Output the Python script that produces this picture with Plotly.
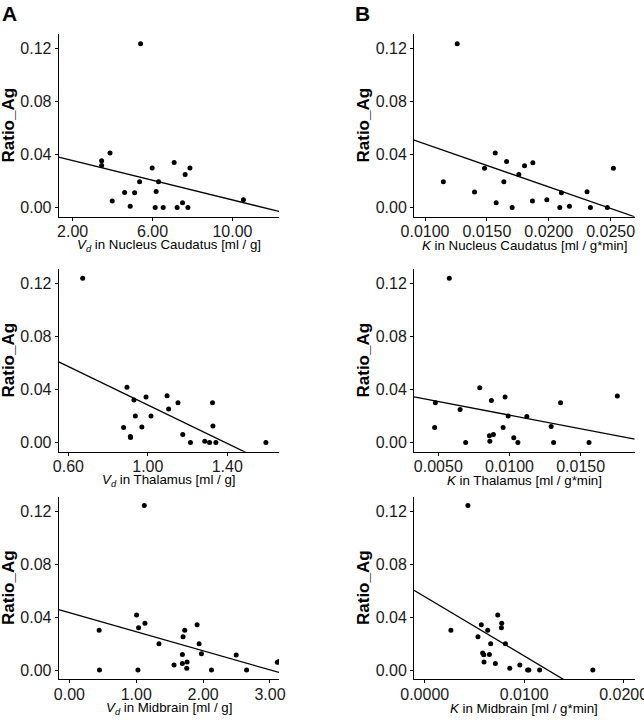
import plotly.graph_objects as go

# ---------------- data ----------------
# Panel A, row 1: Vd in Nucleus Caudatus
x_A1 = [5.40, 3.45, 3.45, 3.87, 3.98, 4.60, 4.88, 5.10, 5.35, 5.98, 6.18,
        6.30, 6.13, 6.53, 7.08, 7.23, 7.50, 7.63, 7.77, 7.87, 10.55]
y_A1 = [0.1238, 0.0354, 0.0318, 0.0412, 0.0048, 0.0114, 0.0010, 0.0111, 0.0195, 0.0298, 0.0121,
        0.0195, 0.0000, 0.0000, 0.0341, 0.0000, 0.0035, 0.0250, 0.0000, 0.0298, 0.0058]

# Panel B, row 1: K in Nucleus Caudatus
x_B1 = [0.01260, 0.01148, 0.01400, 0.01481, 0.01567, 0.01575, 0.01637, 0.01659, 0.01704, 0.01758, 0.01804,
        0.01868, 0.01871, 0.01984, 0.02089, 0.02102, 0.02167, 0.02309, 0.02336, 0.02473, 0.02522]
y_B1 = [0.1238, 0.0194, 0.0116, 0.0297, 0.0411, 0.0035, 0.0194, 0.0348, 0.0000, 0.0250, 0.0315,
        0.0048, 0.0338, 0.0058, 0.0000, 0.0111, 0.0010, 0.0118, 0.0000, 0.0000, 0.0297]

# Panel A, row 2: Vd in Thalamus
x_A2 = [0.672, 0.895, 0.878, 0.912, 0.913, 0.930, 0.937, 0.970, 0.991, 1.016, 1.097,
        1.105, 1.152, 1.176, 1.215, 1.287, 1.311, 1.326, 1.328, 1.343, 1.595]
y_A2 = [0.1243, 0.0417, 0.0114, 0.0045, 0.0038, 0.0321, 0.0200, 0.0116, 0.0344, 0.0200, 0.0354,
        0.0253, 0.0301, 0.0061, 0.0000, 0.0010, 0.0000, 0.0301, 0.0124, 0.0000, 0.0000]

# Panel B, row 2: K in Thalamus
x_B2 = [0.00577, 0.00479, 0.00474, 0.00653, 0.00692, 0.00791, 0.00859, 0.00862, 0.00873, 0.00887, 0.00955,
        0.00969, 0.00991, 0.01030, 0.01059, 0.01122, 0.01293, 0.01310, 0.01359, 0.01559, 0.01758]
y_B2 = [0.1243, 0.0301, 0.0114, 0.0250, 0.0000, 0.0414, 0.0051, 0.0010, 0.0318, 0.0061, 0.0114,
        0.0344, 0.0200, 0.0035, 0.0000, 0.0197, 0.0121, 0.0000, 0.0301, 0.0000, 0.0351]

# Panel A, row 3: Vd in Midbrain
x_A3 = [1.12, 0.445, 0.45, 1.005, 1.035, 1.025, 1.13, 1.34, 1.565, 1.69, 1.69, 1.70,
        1.725, 1.76, 1.755, 1.91, 1.94, 1.975, 2.125, 2.495, 2.65, 3.11, 3.14]
y_A3 = [0.1243, 0.0300, 0.0000, 0.0416, 0.0320, 0.0000, 0.0353, 0.0199, 0.0038, 0.0050, 0.0118, 0.0252,
        0.0300, 0.0060, 0.0013, 0.0343, 0.0199, 0.0124, 0.0000, 0.0113, 0.0000, 0.0058, 0.0066]

# Panel B, row 3: K in Midbrain
x_B3 = [0.00434, 0.00263, 0.00569, 0.00535, 0.00633, 0.00734, 0.00774, 0.00771, 0.00663, 0.00811, 0.00582,
        0.00593, 0.00650, 0.00596, 0.00710, 0.00855, 0.00956, 0.01034, 0.01047, 0.01155, 0.01690]
y_B3 = [0.1243, 0.0300, 0.0343, 0.0252, 0.0300, 0.0416, 0.0353, 0.0320, 0.0199, 0.0199, 0.0129,
        0.0116, 0.0118, 0.0060, 0.0050, 0.0013, 0.0038, 0.0000, 0.0000, 0.0000, 0.0000]

# Regression lines as drawn (intercept, slope)
fit_intercept = [0.0429, 0.0805, 0.1009, 0.0412, 0.0433, 0.0554]
fit_slope = [-0.00372, -3.25, -0.0726, -2.057, -0.01439, -4.48]

x_titles = [
    "<i>V<sub>d</sub></i> in Nucleus Caudatus [ml / g]",
    "<i>K</i> in Nucleus Caudatus [ml / g*min]",
    "<i>V<sub>d</sub></i> in Thalamus [ml / g]",
    "<i>K</i> in Thalamus [ml / g*min]",
    "<i>V<sub>d</sub></i> in Midbrain [ml / g]",
    "<i>K</i> in Midbrain [ml / g*min]",
]
y_title = "Ratio_Ag"
panel_labels = ["A", "B"]

y_tickvals = [0.00, 0.04, 0.08, 0.12]
x_tickvals = [
    [2, 6, 10],
    [0.010, 0.015, 0.020, 0.025],
    [0.6, 1.0, 1.4],
    [0.005, 0.010, 0.015],
    [0, 1, 2, 3],
    [0.0, 0.01, 0.02],
]
x_tickformat = [".2f", ".4f", ".2f", ".4f", ".2f", ".4f"]

# ---------------- layout geometry ----------------
W, H = 644, 720
x_ranges = [
    [1.3, 12.33],
    [0.00911, 0.02694],
    [0.551, 1.661],
    [0.00329, 0.0188],
    [-0.16, 3.135],
    [-0.00108, 0.02111],
]
y_range = [-0.007, 0.131]
col_px = [(58.7, 279.0), (414.0, 634.7)]
row_px = [(34.3, 216.7), (269.3, 451.7), (496.7, 679.3)]

xs = [x_A1, x_B1, x_A2, x_B2, x_A3, x_B3]
ys = [y_A1, y_B1, y_A2, y_B2, y_A3, y_B3]

fig = go.Figure()
tick_font = dict(family="Liberation Sans, Arial, sans-serif", size=16, color="#1a1a1a")
title_font = dict(family="Liberation Sans, Arial, sans-serif", size=13.3, color="black")

annotations = []
for i in range(6):
    r, c = divmod(i, 2)
    xa = "x" if i == 0 else f"x{i+1}"
    ya = "y" if i == 0 else f"y{i+1}"
    fig.add_trace(go.Scatter(x=xs[i], y=ys[i], mode="markers",
                             marker=dict(color="black", size=5),
                             xaxis=xa, yaxis=ya, showlegend=False, hoverinfo="skip"))
    x0, x1 = x_ranges[i]
    fig.add_trace(go.Scatter(x=[x0, x1],
                             y=[fit_intercept[i] + fit_slope[i] * x0, fit_intercept[i] + fit_slope[i] * x1],
                             mode="lines", line=dict(color="black", width=1.3),
                             xaxis=xa, yaxis=ya, showlegend=False, hoverinfo="skip"))
    L, R = col_px[c]
    T, B = row_px[r]
    axis_common = dict(showline=True, linecolor="black", linewidth=1, ticks="outside", ticklen=3,
                       tickwidth=1, tickcolor="black", showgrid=False, zeroline=False,
                       tickfont=tick_font, fixedrange=True, automargin=False,
                       ticklabeloverflow="allow")
    fig.layout[("xaxis" if i == 0 else f"xaxis{i+1}")] = dict(
        domain=[L / W, R / W], range=x_ranges[i], anchor=ya, tickvals=x_tickvals[i],
        tickformat=x_tickformat[i], ticklabelstandoff=-3, **axis_common)
    fig.layout[("yaxis" if i == 0 else f"yaxis{i+1}")] = dict(
        domain=[1 - B / H, 1 - T / H], range=y_range, anchor=xa, tickvals=y_tickvals,
        tickformat=".2f", **axis_common)
    # x-axis title
    annotations.append(dict(text=x_titles[i], xref="paper", yref="paper",
                            x=(L + R) / 2 / W, y=1 - (B + 29) / H, xanchor="center", yanchor="middle",
                            showarrow=False, font=title_font))
    # y-axis title
    ytx = 8.0 if c == 0 else 363.0
    annotations.append(dict(text=f"<b>{y_title}</b>", xref="paper", yref="paper",
                            x=ytx / W, y=1 - (T + B) / 2 / H, xanchor="center", yanchor="middle",
                            textangle=-90, showarrow=False,
                            font=dict(family="Liberation Sans, Arial, sans-serif", size=17, color="black")))

for lbl, px in zip(panel_labels, [9.5, 362.5]):
    annotations.append(dict(text=f"<b>{lbl}</b>", xref="paper", yref="paper",
                            x=px / W, y=1 - 13 / H, xanchor="center", yanchor="middle", showarrow=False,
                            font=dict(family="Liberation Sans, Arial, sans-serif", size=21, color="black")))

fig.update_layout(width=W, height=H, margin=dict(l=0, r=0, t=0, b=0, autoexpand=False),
                  paper_bgcolor="white", plot_bgcolor="white", annotations=annotations)

fig.write_html("out.html", config={"displayModeBar": False},
               post_script="document.body.style.margin='0';")
